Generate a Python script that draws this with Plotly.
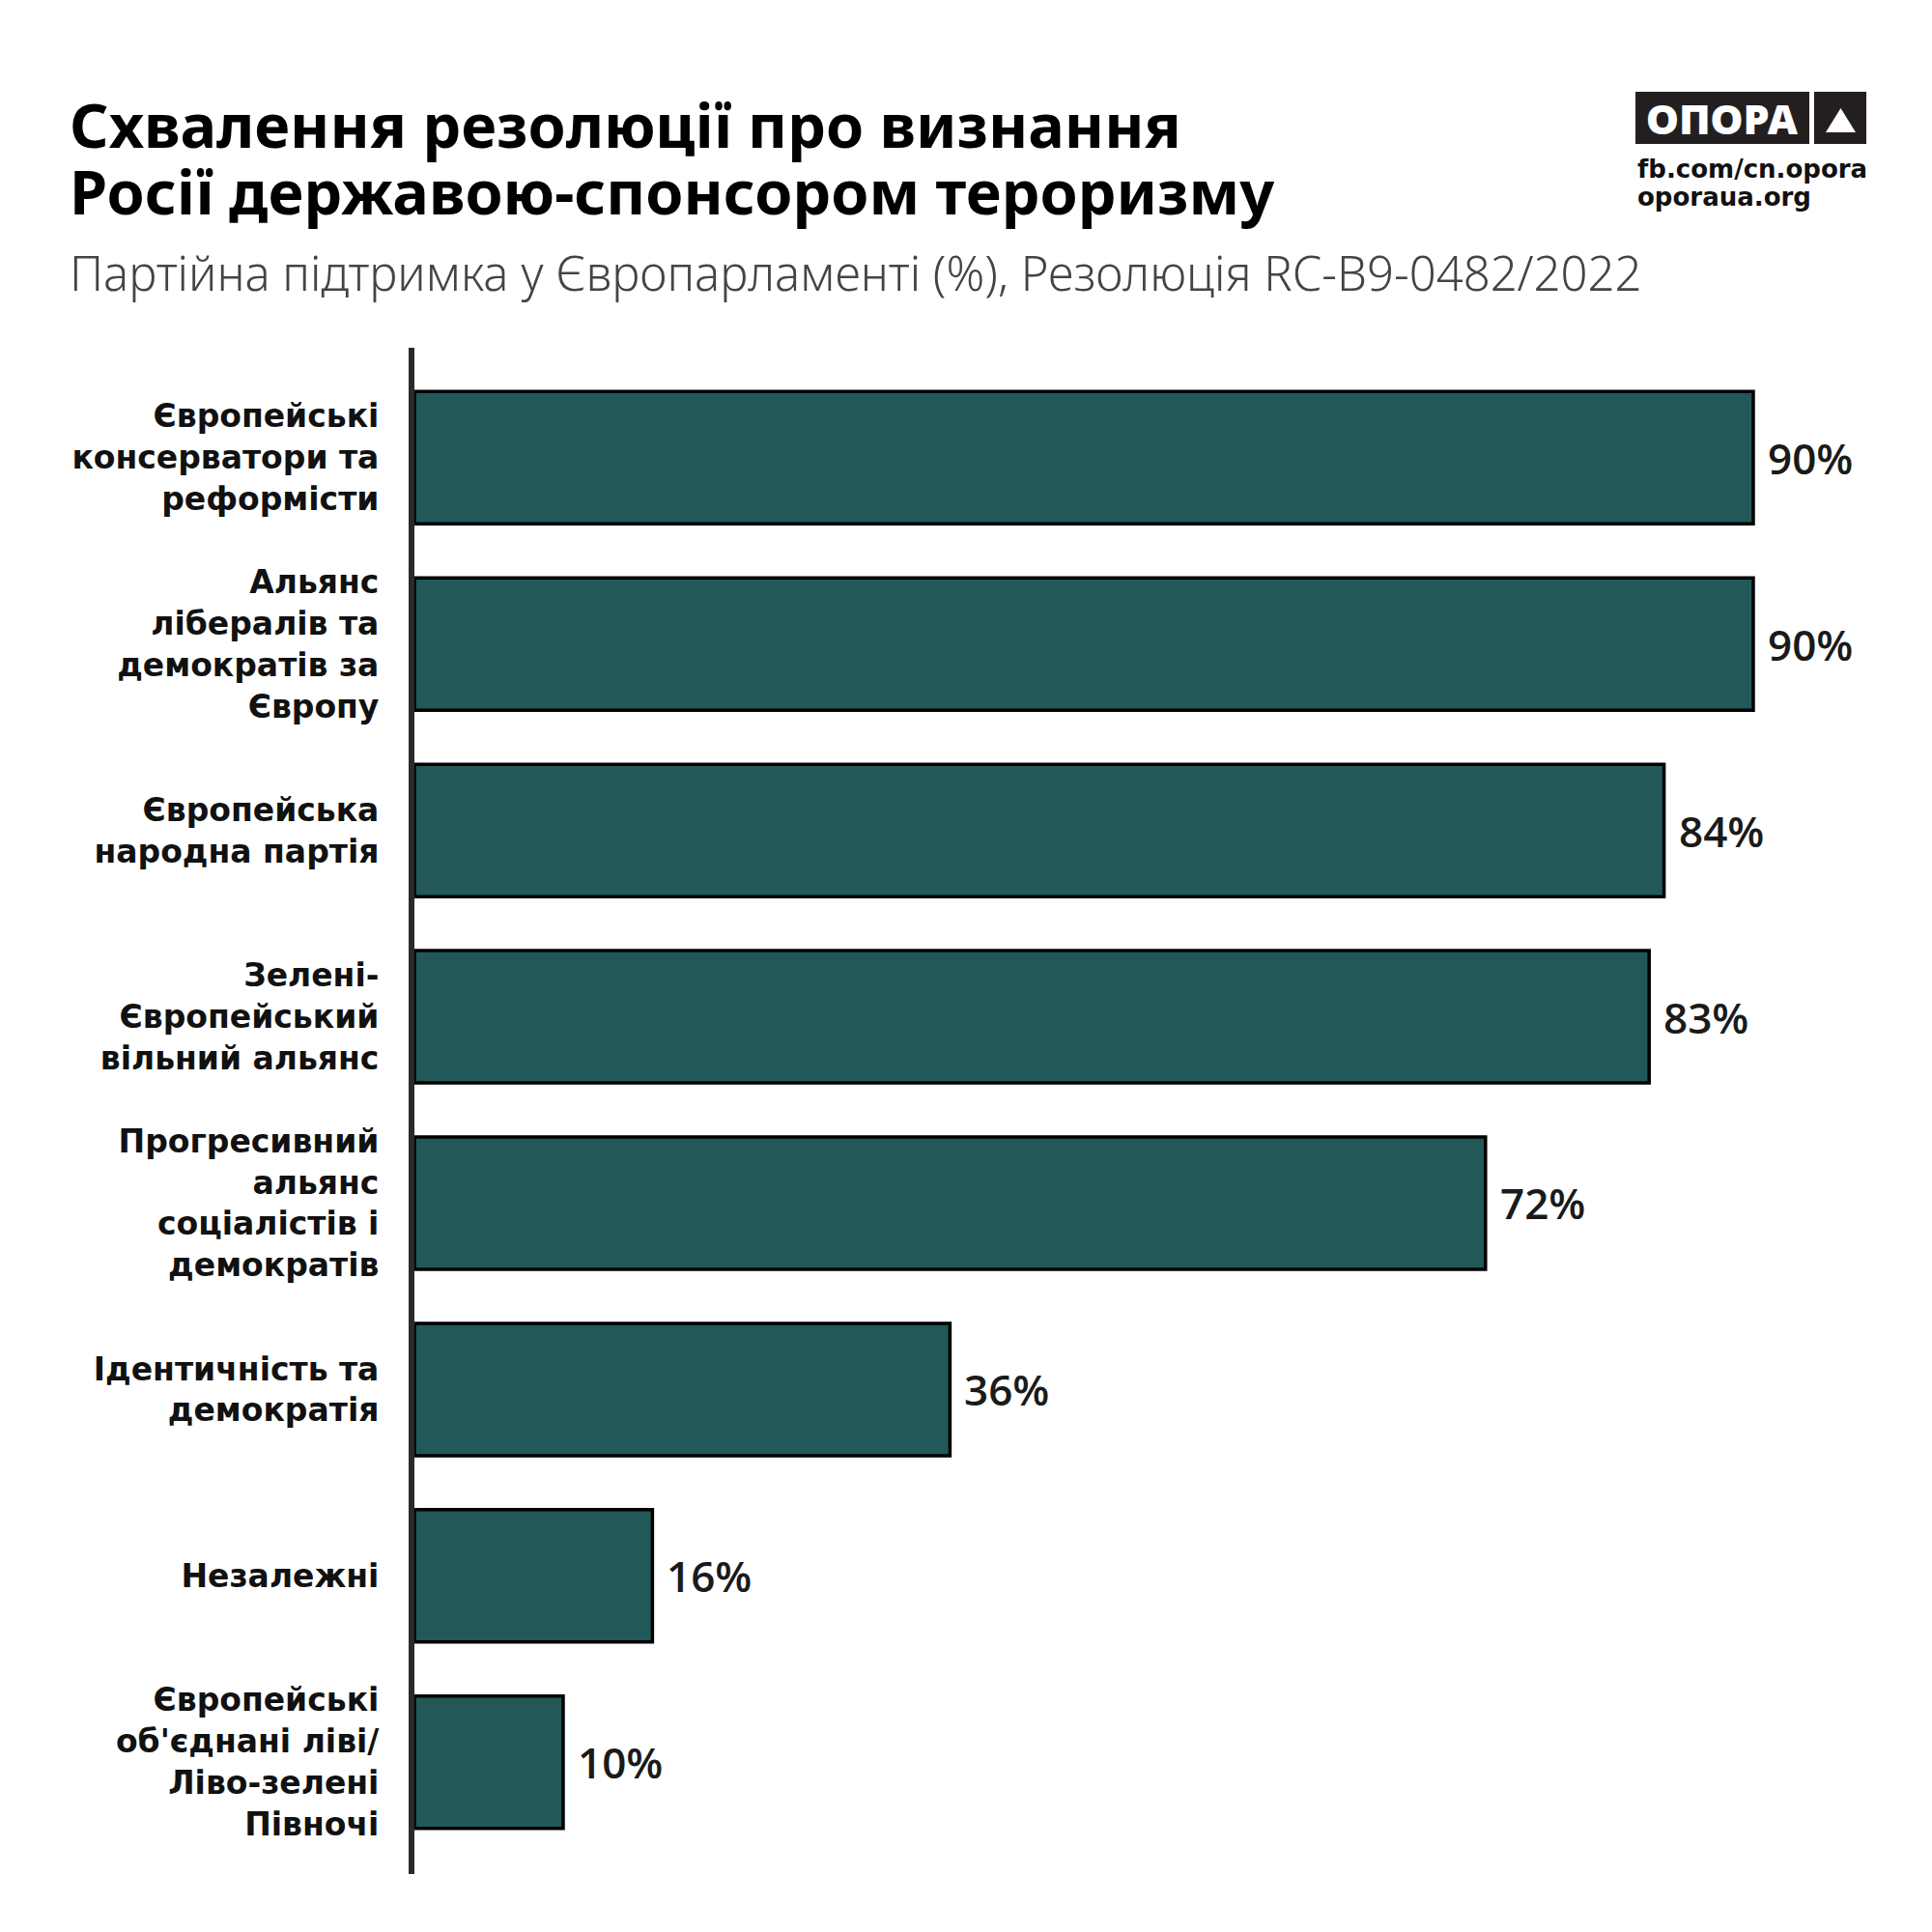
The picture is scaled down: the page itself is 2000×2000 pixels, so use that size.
import plotly.graph_objects as go

# ---- data ----
categories = [
    "Європейські<br>консерватори та<br>реформісти",
    "Альянс<br>лібералів та<br>демократів за<br>Європу",
    "Європейська<br>народна партія",
    "Зелені-<br>Європейський<br>вільний альянс",
    "Прогресивний<br>альянс<br>соціалістів і<br>демократів",
    "Ідентичність та<br>демократія",
    "Незалежні",
    "Європейські<br>об'єднані ліві/<br>Ліво-зелені<br>Півночі",
]
values = [90, 90, 84, 83, 72, 36, 16, 10]
value_labels = [f"{v}%" for v in values]

title_line1 = "Схвалення резолюції про визнання"
title_line2 = "Росії державою-спонсором тероризму"
subtitle = "Партійна підтримка у Європарламенті (%), Резолюція RC-B9-0482/2022"
logo_text = "ОПОРА"
logo_links = ["fb.com/cn.opora", "oporaua.org"]

# ---- layout geometry (target screen pixels; page body adds an 8px offset) ----
W = H = 2000
OFF = 8
L, R, T, B = 429 - OFF, 1969 - OFF, 360 - OFF, 1940 - OFF


def px(x):
    return (x - OFF - L) / (R - L)


def py(y):
    return (B - (y - OFF)) / (B - T)


BAR_COLOR = "#225958"

fig = go.Figure(
    go.Bar(
        x=values,
        y=categories,
        orientation="h",
        width=0.71,
        marker=dict(color=BAR_COLOR, line=dict(color="#000000", width=3.5)),
        hoverinfo="skip",
    )
)

annotations = []
for c, v, t in zip(categories, values, value_labels):
    annotations.append(dict(
        x=v, y=c, xref="x", yref="y", text=t, showarrow=False,
        xanchor="left", yanchor="middle", xshift=13,
        font=dict(family="Open Sans", size=44, color="#1a1a1a", weight=600),
    ))

TITLE_FONT = dict(family="Noto Sans", size=63, color="#000000", weight="bold")
annotations += [
    dict(x=px(70), y=py(128), xref="paper", yref="paper", text=title_line1,
         showarrow=False, xanchor="left", yanchor="middle", font=TITLE_FONT),
    dict(x=px(70), y=py(198), xref="paper", yref="paper", text=title_line2,
         showarrow=False, xanchor="left", yanchor="middle", font=TITLE_FONT),
    dict(x=px(70), y=py(282), xref="paper", yref="paper", text=subtitle,
         showarrow=False, xanchor="left", yanchor="middle",
         font=dict(family="Noto Sans", size=49, color="#444444", weight=300)),
    dict(x=px(1783), y=py(122), xref="paper", yref="paper", text=logo_text,
         showarrow=False, xanchor="center", yanchor="middle",
         font=dict(family="Noto Sans", size=43, color="#ffffff", weight=900)),
    dict(x=px(1693), y=py(175), xref="paper", yref="paper", text=logo_links[0],
         showarrow=False, xanchor="left", yanchor="middle",
         font=dict(family="DejaVu Sans", size=26, color="#111111", weight="bold")),
    dict(x=px(1693), y=py(204), xref="paper", yref="paper", text=logo_links[1],
         showarrow=False, xanchor="left", yanchor="middle",
         font=dict(family="DejaVu Sans", size=26, color="#111111", weight="bold")),
]

shapes = [
    dict(type="rect", xref="paper", yref="paper", x0=px(1693), x1=px(1873),
         y0=py(149), y1=py(95), fillcolor="#231f20", line=dict(width=0), layer="above"),
    dict(type="rect", xref="paper", yref="paper", x0=px(1878), x1=px(1932),
         y0=py(149), y1=py(95), fillcolor="#231f20", line=dict(width=0), layer="above"),
    dict(type="path", xref="paper", yref="paper",
         path=f"M {px(1890)} {py(137)} L {px(1921)} {py(137)} L {px(1905.5)} {py(112)} Z",
         fillcolor="#ffffff", line=dict(width=0), layer="above"),
]

fig.update_layout(
    width=W, height=H,
    margin=dict(l=L, r=W - R, t=T, b=H - B, pad=0),
    paper_bgcolor="#ffffff", plot_bgcolor="#ffffff",
    showlegend=False,
    xaxis=dict(range=[0, 100], visible=False, fixedrange=True),
    yaxis=dict(
        range=[7.6, -0.59],
        showline=True, linewidth=6, linecolor="#2b2b25",
        showgrid=False, zeroline=False, ticks="",
        ticklabelstandoff=24,
        tickfont=dict(family="DejaVu Sans", size=33, color="#111111", weight="bold"),
    ),
    annotations=annotations,
    shapes=shapes,
)

fig.write_html("out.html")
